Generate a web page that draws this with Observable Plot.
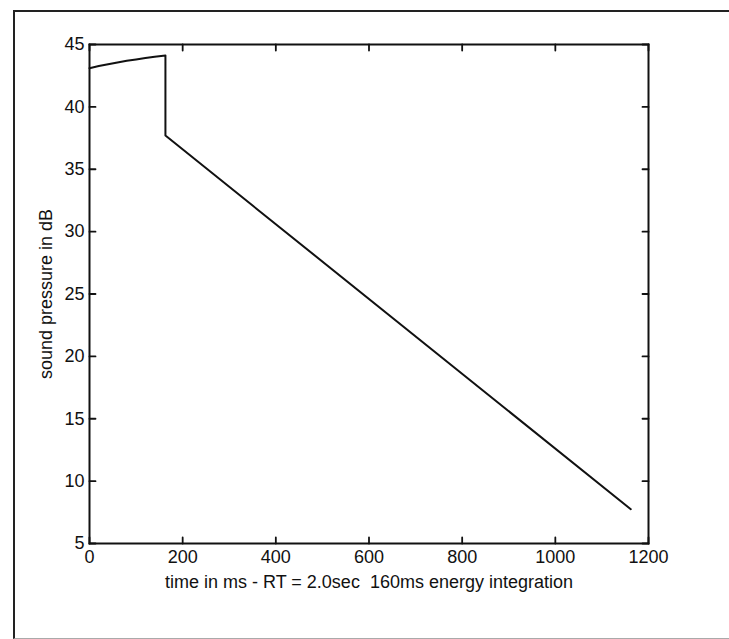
<!DOCTYPE html>
<html>
<head>
<meta charset="utf-8">
<script src="https://cdn.jsdelivr.net/npm/d3@7"></script>
<script src="https://cdn.jsdelivr.net/npm/@observablehq/plot@0.6"></script>
<style>
  html, body { margin: 0; padding: 0; background: #fff; }
  #wrap { position: relative; width: 729px; height: 639px; overflow: hidden; }
  #frame { position: absolute; left: 13px; top: 10px; width: 730px; height: 626px;
           border-left: 2px solid #222; border-top: 2px solid #222; border-bottom: 1px solid #aaa; }
  #chart { position: absolute; left: 0; top: 0; }
</style>
</head>
<body>
<div id="wrap"><div id="frame"></div><div id="chart"></div></div>
<script>
// Data
const timeMs = [0, 20, 40, 60, 80, 100, 120, 140, 163, 163, 1162];
const soundDb = [43.1, 43.27, 43.42, 43.56, 43.69, 43.8, 43.91, 44.02, 44.12, 37.7, 7.75];
const xTicks = [0, 200, 400, 600, 800, 1000, 1200];
const yTicks = [5, 10, 15, 20, 25, 30, 35, 40, 45];
const xTitle = "time in ms - RT = 2.0sec  160ms energy integration";
const yTitle = "sound pressure in dB";

const data = timeMs.map((t, i) => ({t, db: soundDb[i]}));
const font = "'Liberation Sans Narrow', 'Liberation Sans', Arial, sans-serif";
const tickLen = 6;

const plot = Plot.plot({
  width: 729,
  height: 639,
  marginLeft: 89,
  marginRight: 81,
  marginTop: 44,
  marginBottom: 96,
  style: {fontFamily: font, fontSize: "18px", color: "#111", background: "transparent"},
  x: {domain: [0, 1200]},
  y: {domain: [5, 45]},
  marks: [
    Plot.frame({stroke: "#111", strokeWidth: 2}),
    Plot.axisX({ticks: xTicks, tickSize: 0, tickPadding: 7, tickFormat: d => String(d),
      label: xTitle, labelAnchor: "center", labelOffset: 44, labelArrow: "none", fontSize: 18}),
    Plot.axisY({ticks: yTicks, tickSize: 0, tickPadding: 5, tickFormat: d => String(d),
      label: yTitle, labelAnchor: "center", labelOffset: 50, labelArrow: "none", fontSize: 18}),
    // inward tick marks on all four sides
    Plot.vector(xTicks, {x: d => d, frameAnchor: "bottom", length: tickLen, rotate: 0, r: 0, anchor: "start", stroke: "#111", strokeWidth: 1.8}),
    Plot.vector(xTicks, {x: d => d, frameAnchor: "top", length: tickLen, rotate: 180, r: 0, anchor: "start", stroke: "#111", strokeWidth: 1.8}),
    Plot.vector(yTicks, {y: d => d, frameAnchor: "left", length: tickLen, rotate: 90, r: 0, anchor: "start", stroke: "#111", strokeWidth: 1.8}),
    Plot.vector(yTicks, {y: d => d, frameAnchor: "right", length: tickLen, rotate: -90, r: 0, anchor: "start", stroke: "#111", strokeWidth: 1.8}),
    Plot.line(data, {x: "t", y: "db", stroke: "#111", strokeWidth: 2})
  ]
});
document.getElementById("chart").appendChild(plot);
</script>
</body>
</html>
